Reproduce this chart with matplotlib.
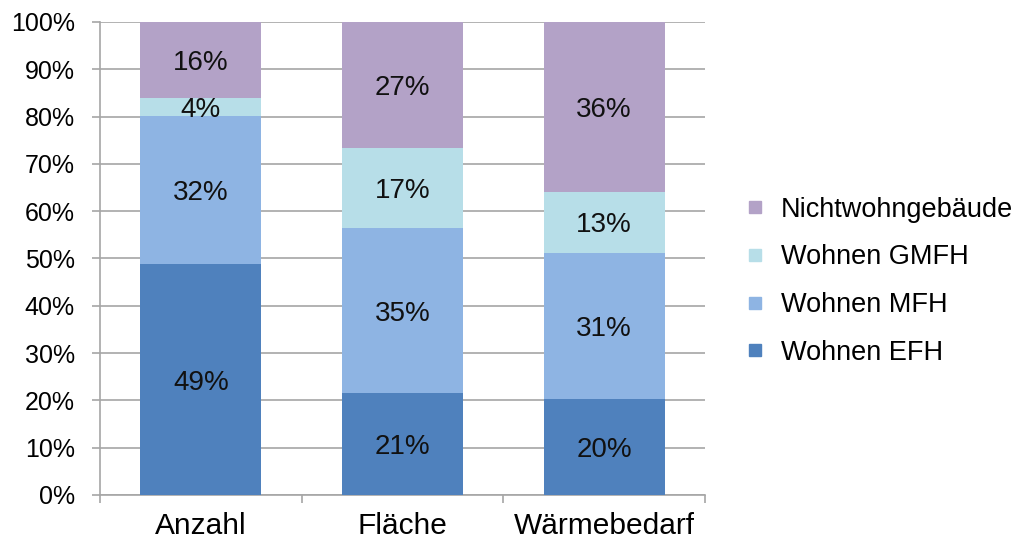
import matplotlib
matplotlib.use("Agg")
import matplotlib.pyplot as plt
from matplotlib.lines import Line2D
import numpy as np

plt.rcParams['font.family'] = ['Liberation Sans', 'DejaVu Sans']

# Data
categories = ["Anzahl", "Fläche", "Wärmebedarf"]
series = ["Wohnen EFH", "Wohnen MFH", "Wohnen GMFH", "Nichtwohngebäude"]
efh = [48.8, 21.5, 20.4]
mfh = [31.3, 35.0, 30.8]
gmfh = [3.9, 16.8, 12.9]
nwg = [16.0, 26.7, 35.9]
efh_lbl = ["49%", "21%", "20%"]
mfh_lbl = ["32%", "35%", "31%"]
gmfh_lbl = ["4%", "17%", "13%"]
nwg_lbl = ["16%", "27%", "36%"]
colors = ["#4F81BD", "#8EB4E3", "#B7DEE8", "#B3A2C7"]

values = [efh, mfh, gmfh, nwg]
labels = [efh_lbl, mfh_lbl, gmfh_lbl, nwg_lbl]

fig = plt.figure(figsize=(10.16, 5.43), dpi=100)
ax = fig.add_axes([0.0984, 0.0884, 0.5955, 0.8711])

x = np.arange(len(categories))
bottom = np.zeros(len(categories))
for vals, lbls, col in zip(values, labels, colors):
    vals = np.array(vals)
    ax.bar(x, vals, 0.6, bottom=bottom, color=col, zorder=3)
    for xi, b, v, t in zip(x, bottom, vals, lbls):
        ax.text(xi, b + v / 2, t, ha="center", va="center_baseline", fontsize=20,
                color="#111111", zorder=4)
    bottom += vals

ax.set_xlim(-0.5, 2.5)
ax.set_ylim(0, 100)
ax.set_yticks(np.arange(0, 101, 10))
ax.set_yticklabels([f"{v}%" for v in range(0, 101, 10)])
ax.yaxis.grid(True, color="#A6A6A6", linewidth=1.2, zorder=0)
ax.set_xticks(x)
ax.set_xticklabels(categories)
ax.set_xticks([-0.5, 0.5, 1.5, 2.5], minor=True)
ax.tick_params(axis="x", which="major", length=0, labelsize=21.5, pad=12)
ax.tick_params(axis="x", which="minor", length=6, width=1.2, color="#A6A6A6")
ax.tick_params(axis="y", length=6, width=1.2, color="#A6A6A6", labelsize=18, pad=12)

for s in ["top", "right"]:
    ax.spines[s].set_visible(False)
for s in ["left", "bottom"]:
    ax.spines[s].set_color("#A6A6A6")
    ax.spines[s].set_linewidth(1.2)

handles = [Line2D([], [], marker="s", linestyle="none", markersize=8, color=c)
           for c in colors]
leg = fig.legend(handles[::-1], series[::-1], loc="center left",
                 bbox_to_anchor=(0.706, 0.482), frameon=False, fontsize=19.5,
                 handletextpad=0.45, labelspacing=0.8, handlelength=1.0)

fig.savefig("out.png", dpi=100)
